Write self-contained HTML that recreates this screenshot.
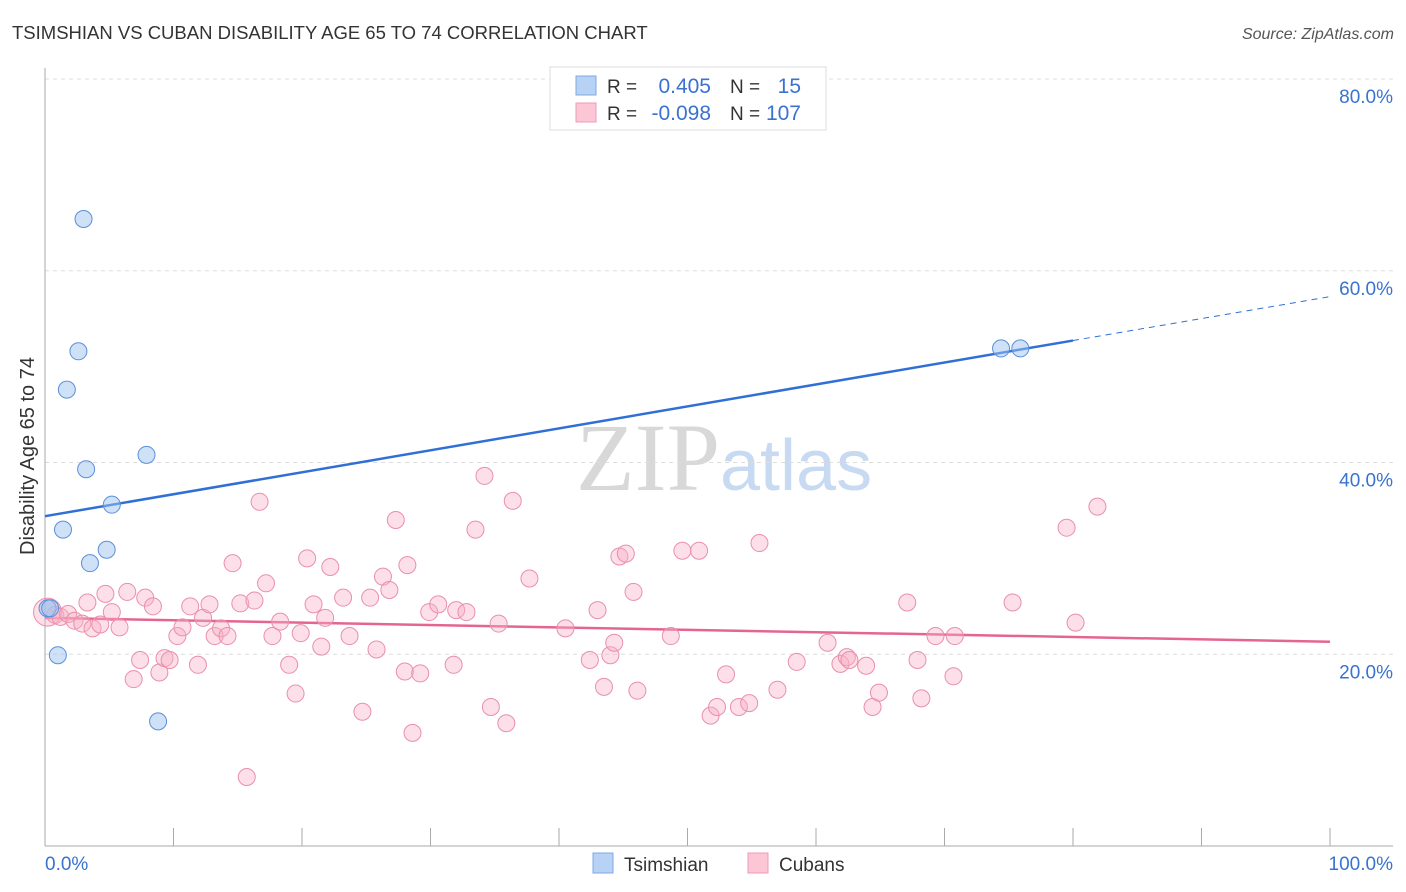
<!DOCTYPE html>
<html><head><meta charset="utf-8"><style>
body{margin:0;background:#fff;font-family:"Liberation Sans",sans-serif}
#c{position:absolute;left:0;top:0}
</style></head><body>
<svg id="c" width="1406" height="892">
<text x="12" y="39" font-size="18.5" fill="#333">TSIMSHIAN VS CUBAN DISABILITY AGE 65 TO 74 CORRELATION CHART</text>
<text x="1394" y="39" font-size="16" fill="#555" font-style="italic" text-anchor="end">Source: ZipAtlas.com</text>
<text x="720" y="490" font-size="96" fill="#d8d8d8" text-anchor="end" font-family="Liberation Serif,serif">ZIP</text>
<text x="720" y="490" font-size="72" fill="#c8daf2">atlas</text>
<g id="grid"></g><g id="axes"></g><g id="lines"></g><g id="pts"></g>
<text x="34" y="456" font-size="20" fill="#333" text-anchor="middle" transform="rotate(-90 34 456)">Disability Age 65 to 74</text>
<g>
<rect x="550" y="67" width="276" height="63" fill="#fff" stroke="#ddd"/>
<rect x="576" y="76" width="20" height="19" fill="#b8d2f5" stroke="#7fa8e0"/>
<rect x="576" y="103" width="20" height="19" fill="#fcc6d6" stroke="#ec9bb4"/>
<text x="607" y="93" font-size="19" fill="#333">R =</text><text x="711" y="93" font-size="21" fill="#3a72d0" text-anchor="end">0.405</text>
<text x="730" y="93" font-size="19" fill="#333">N =</text><text x="801" y="93" font-size="21" fill="#3a72d0" text-anchor="end">15</text>
<text x="607" y="120" font-size="19" fill="#333">R =</text><text x="711" y="120" font-size="21" fill="#3a72d0" text-anchor="end">-0.098</text>
<text x="730" y="120" font-size="19" fill="#333">N =</text><text x="801" y="120" font-size="21" fill="#3a72d0" text-anchor="end">107</text>
</g>
<g>
<rect x="593" y="853" width="20" height="20" fill="#b8d2f5" stroke="#7fa8e0"/>
<text x="624" y="871" font-size="19" fill="#333">Tsimshian</text>
<rect x="748" y="853" width="20" height="20" fill="#fcc6d6" stroke="#ec9bb4"/>
<text x="779" y="871" font-size="19" fill="#333">Cubans</text>
</g>
</svg>
<script>
const yTicks=[20,40,60,80];
const xTickLabels=["0.0%","100.0%"];
const blueX=[3.0,2.6,1.7,3.2,7.9,5.2,1.4,4.8,3.5,1.0,8.8,0.2,74.4,75.9,0.4];
const blueY=[65.4,51.6,47.6,39.3,40.8,35.6,33.0,30.9,29.5,19.9,13.0,24.8,51.9,51.9,24.8];
const pinkX=[0.2,0.8,1.2,1.8,2.3,2.9,3.3,3.7,4.3,4.7,5.2,5.8,6.4,6.9,7.4,7.8,8.4,8.9,9.3,9.7,10.3,10.7,11.3,11.9,12.3,12.8,13.2,13.7,14.2,14.6,15.2,15.7,16.3,16.7,17.2,17.7,18.3,19.0,19.5,19.9,20.4,20.9,21.5,21.8,22.2,23.2,23.7,24.7,25.3,25.8,26.3,26.8,27.3,28.0,28.2,28.6,29.2,29.9,30.6,31.8,32.0,32.8,33.5,34.2,34.7,35.3,35.9,36.4,37.7,40.5,42.4,43.0,43.5,44.0,44.3,44.7,45.2,45.8,46.1,48.7,49.6,50.9,51.8,52.3,53.0,54.0,54.8,55.6,57.0,58.5,60.9,61.9,62.4,62.6,63.9,64.4,64.9,67.1,67.9,68.2,69.3,70.7,70.8,75.3,79.5,80.2,81.9];
const pinkY=[24.4,24.1,23.9,24.2,23.5,23.2,25.4,22.7,23.1,26.3,24.4,22.8,26.5,17.4,19.4,25.9,25.0,18.1,19.6,19.4,21.9,22.8,25.0,18.9,23.8,25.2,21.9,22.7,21.9,29.5,25.3,7.2,25.6,35.9,27.4,21.9,23.4,18.9,15.9,22.2,30.0,25.2,20.8,23.8,29.1,25.9,21.9,14.0,25.9,20.5,28.1,26.7,34.0,18.2,29.3,11.8,18.0,24.4,25.2,18.9,24.6,24.4,33.0,38.6,14.5,23.2,12.8,36.0,27.9,22.7,19.4,24.6,16.6,19.9,21.2,30.2,30.5,26.5,16.2,21.9,30.8,30.8,13.6,14.5,17.9,14.5,14.9,31.6,16.3,19.2,21.2,19.0,19.7,19.4,18.8,14.5,16.0,25.4,19.4,15.4,21.9,17.7,21.9,25.4,33.2,23.3,35.4];
const blueLine=[34.4,57.3]; const blueSolidEnd=80;
const pinkLine=[23.8,21.3];
const X=v=>45+v*12.85, Y=v=>846-v*9.5875;
const NS="http://www.w3.org/2000/svg";
function mk(p,t,a){const e=document.createElementNS(NS,t);for(const k in a)e.setAttribute(k,a[k]);document.getElementById(p).appendChild(e);return e;}
yTicks.forEach(t=>{
 const l=mk('grid','line',{x1:45,x2:1393,y1:Y(t),y2:Y(t),stroke:'#ddd','stroke-dasharray':'4,4'});
 
 
 const tx=mk('grid','text',{x:1393,y:Y(t)+24,'font-size':19,fill:'#3a72d0','text-anchor':'end'});
 tx.textContent=t.toFixed(1)+'%';
 
 
});
mk('axes','line',{x1:45,x2:45,y1:68,y2:846,stroke:'#aaa'});
mk('axes','line',{x1:45,x2:1393,y1:846,y2:846,stroke:'#aaa'});
for(let i=1;i<=10;i++){const t=mk('axes','line',{x1:X(i*10),x2:X(i*10),y1:828,y2:846,stroke:'#aaa'});
 
 }
const xl0=mk('axes','text',{x:45,y:870,'font-size':19,fill:'#3a72d0'});xl0.textContent=xTickLabels[0];


const xl1=mk('axes','text',{x:1393,y:870,'font-size':19,fill:'#3a72d0','text-anchor':'end'});xl1.textContent=xTickLabels[1];


pinkX.forEach((x,i)=>{const c=mk('pts','circle',{cx:X(x),cy:Y(pinkY[i]),r:i==0?14:8.5,fill:'rgba(248,175,198,0.4)',stroke:'#ea8fac','stroke-width':1});
 
 });
blueX.forEach((x,i)=>{const c=mk('pts','circle',{cx:X(x),cy:Y(blueY[i]),r:8.5,fill:'rgba(160,195,240,0.5)',stroke:'#5b8fd9','stroke-width':1});
 
 });
const bAt=v=>blueLine[0]+(blueLine[1]-blueLine[0])*v/100;
const bl=mk('lines','line',{x1:X(0),y1:Y(bAt(0)),x2:X(blueSolidEnd),y2:Y(bAt(blueSolidEnd)),stroke:'#2f6fd6','stroke-width':2.5});


const bd=mk('lines','line',{x1:X(blueSolidEnd),y1:Y(bAt(blueSolidEnd)),x2:X(100),y2:Y(bAt(100)),stroke:'#2f6fd6','stroke-width':1,'stroke-dasharray':'6,5'});


const pl=mk('lines','line',{x1:X(0),y1:Y(pinkLine[0]),x2:X(100),y2:Y(pinkLine[1]),stroke:'#e4668f','stroke-width':2.5});


</script>
</body></html>
